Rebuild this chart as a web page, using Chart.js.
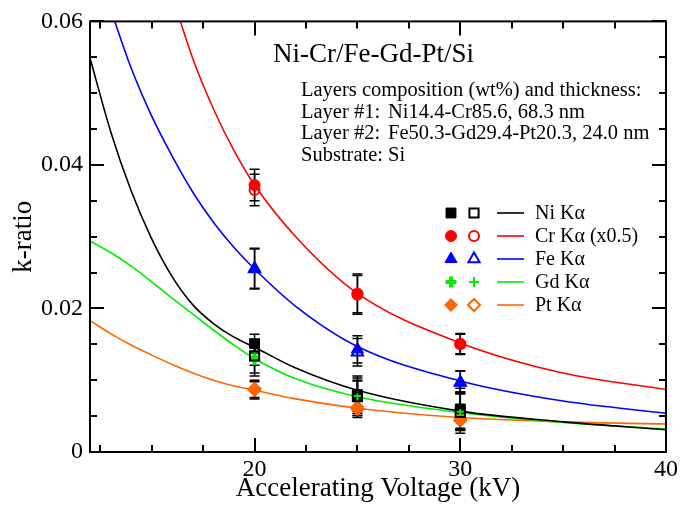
<!DOCTYPE html>
<html lang="en">
<head>
<meta charset="UTF-8">
<title>k-ratio vs accelerating voltage</title>
<script src="https://cdn.jsdelivr.net/npm/chart.js"></script>
<style>
  html, body { margin: 0; padding: 0; background: #fff; }
</style>
</head>
<body>
<canvas id="kChart" width="681" height="505"></canvas>

<script>
    // Measured k-ratios at each voltage (filled and open symbols)
    var voltages = [20, 25, 30];
    var niFilled = [0.0151, 0.0080, 0.0060];
    var niOpen   = [0.0134, 0.0077, 0.0055];
    var niErr    = [0.0013, 0.0026, 0.0029];
    var crFilled = [0.0372, 0.0221, 0.0151];
    var crOpen   = [0.0365, 0.0219, 0.0150];
    var crErr    = [0.0022, 0.0027, 0.0014];
    var feFilled = [0.0256, 0.0143, 0.0097];
    var feOpen   = [0.0255, 0.0139, 0.0097];
    var feErr    = [0.0028, 0.0019, 0.0016];
    var gdFilled = [0.0129, 0.0079, 0.0057];
    var gdOpen   = [0.0133, 0.0078, 0.0056];
    var gdErr    = [0.0023, 0.0021, 0.0026];
    var ptFilled = [0.0086, 0.0063, 0.0046];
    var ptOpen   = [0.0088, 0.0060, 0.0044];
    var ptErr    = [0.0012, 0.0012, 0.0013];

    // Calculated curves
    var curveKV = [12, 13, 14, 15, 16, 17, 18, 19, 20, 22, 25, 30, 35, 40];
    var niCurve = [0.0549, 0.0447, 0.0364, 0.0297, 0.0244, 0.0205, 0.0179, 0.0160, 0.0146, 0.0117, 0.0086, 0.0057, 0.0042, 0.0031];
    var crCurve = [null, null, null, null, 0.0635, 0.0548, 0.0478, 0.0420, 0.0372, 0.0300, 0.0221, 0.0152, 0.0110, 0.0087];
    var feCurve = [null, 0.0617, 0.0535, 0.0468, 0.0412, 0.0362, 0.0320, 0.0285, 0.0255, 0.0203, 0.0147, 0.0099, 0.0071, 0.0054];
    var gdCurve = [0.0294, 0.0278, 0.0259, 0.0237, 0.0214, 0.0192, 0.0170, 0.0149, 0.0130, 0.0102, 0.0077, 0.0055, 0.0041, 0.0032];
    var ptCurve = [0.0183, 0.0165, 0.0149, 0.0135, 0.0122, 0.0110, 0.0100, 0.0092, 0.0086, 0.0074, 0.0061, 0.0048, 0.0042, 0.0039];

    var seriesNames = ['Ni K\u03b1', 'Cr K\u03b1 (x0.5)', 'Fe K\u03b1', 'Gd K\u03b1', 'Pt K\u03b1'];

    // Axis ticks
    var xTickVals = [12.5, 15, 17.5, 20, 22.5, 25, 27.5, 30, 32.5, 35, 37.5, 40];
    var xTickLabels = {20: '20', 30: '30', 40: '40'};
    var yTickVals = [0, 0.005, 0.01, 0.015, 0.02, 0.025, 0.03, 0.035, 0.04, 0.045, 0.05, 0.055, 0.06];
    var yTickLabels = ['0', '', '', '', '0.02', '', '', '', '0.04', '', '', '', '0.06'];

    var plotTitle = 'Ni-Cr/Fe-Gd-Pt/Si';
    var noteLines = [
        ['Layers composition (wt%) and thickness:', ''],
        ['Layer #1:', 'Ni14.4-Cr85.6, 68.3 nm'],
        ['Layer #2:', 'Fe50.3-Gd29.4-Pt20.3, 24.0 nm'],
        ['Substrate: Si', '']
    ];

    var serif = "'Liberation Serif', 'DejaVu Serif', serif";
    var colors = ['#000000', '#ff0000', '#0000ff', '#00ee00', '#ff6600'];
    var shapes = ['rect', 'circle', 'triangle', 'cross', 'rectRot'];
    var radii  = [7, 5.5, 7, 5.5, 6.5];

    function pts(ys) {
        return voltages.map(function(x, i) { return {x: x, y: ys[i]}; });
    }
    function curve(ys) {
        return curveKV.map(function(x, i) { return {x: x, y: ys[i]}; });
    }

    var filled = [niFilled, crFilled, feFilled, gdFilled, ptFilled];
    var open   = [niOpen, crOpen, feOpen, gdOpen, ptOpen];
    var errs   = [niErr, crErr, feErr, gdErr, ptErr];
    var curves = [niCurve, crCurve, feCurve, gdCurve, ptCurve];

    var datasets = [];
    curves.forEach(function(c, i) {
        datasets.push({
            type: 'line', label: seriesNames[i] + ' calc', data: curve(c),
            borderColor: colors[i], borderWidth: 1.6, pointRadius: 0,
            cubicInterpolationMode: 'monotone', fill: false, order: 2
        });
    });
    filled.forEach(function(f, i) {
        datasets.push({
            type: 'scatter', label: seriesNames[i], data: pts(f), errorBars: errs[i],
            pointStyle: shapes[i], pointRadius: radii[i],
            pointBackgroundColor: colors[i], pointBorderColor: colors[i],
            pointBorderWidth: shapes[i] === 'cross' ? 4 : 1, order: 1
        });
        datasets.push({
            type: 'scatter', label: seriesNames[i] + ' (open)', data: pts(open[i]), errorBars: errs[i],
            pointStyle: shapes[i], pointRadius: radii[i] - 0.5,
            pointBackgroundColor: 'rgba(0,0,0,0)', pointBorderColor: colors[i],
            pointBorderWidth: 2, order: 0
        });
    });

    // Error bars under the symbols
    var errorBarPlugin = {
        id: 'errorBars',
        beforeDatasetsDraw: function(chart) {
            var ctx = chart.ctx, xs = chart.scales.x, ys = chart.scales.y;
            ctx.save();
            ctx.strokeStyle = '#000';
            ctx.lineWidth = 1.5;
            chart.data.datasets.forEach(function(ds) {
                if (!ds.errorBars) return;
                ds.data.forEach(function(p, i) {
                    var px = xs.getPixelForValue(p.x);
                    var top = ys.getPixelForValue(p.y + ds.errorBars[i]);
                    var bot = ys.getPixelForValue(p.y - ds.errorBars[i]);
                    ctx.beginPath();
                    ctx.moveTo(px, top); ctx.lineTo(px, bot);
                    ctx.moveTo(px - 5, top); ctx.lineTo(px + 5, top);
                    ctx.moveTo(px - 5, bot); ctx.lineTo(px + 5, bot);
                    ctx.stroke();
                });
            });
            ctx.restore();
        }
    };

    // Frame with inward ticks on all four sides, legend and notes
    var framePlugin = {
        id: 'frame',
        afterDraw: function(chart) {
            var ctx = chart.ctx, a = chart.chartArea;
            var xs = chart.scales.x, ys = chart.scales.y;
            ctx.save();
            ctx.strokeStyle = '#000';
            ctx.lineWidth = 2;
            ctx.beginPath();
            xs.ticks.forEach(function(t) {
                var px = Math.round(xs.getPixelForValue(t.value));
                var len = t.label ? 14 : 7;
                ctx.moveTo(px, a.bottom); ctx.lineTo(px, a.bottom - len);
                ctx.moveTo(px, a.top); ctx.lineTo(px, a.top + len);
            });
            ys.ticks.forEach(function(t) {
                var py = Math.round(ys.getPixelForValue(t.value));
                var len = t.label ? 14 : 7;
                ctx.moveTo(a.left, py); ctx.lineTo(a.left + len, py);
                ctx.moveTo(a.right, py); ctx.lineTo(a.right - len, py);
            });
            ctx.stroke();
            ctx.strokeRect(a.left, a.top, a.right - a.left, a.bottom - a.top);

            // title and composition notes
            ctx.fillStyle = '#000';
            ctx.textBaseline = 'alphabetic';
            ctx.textAlign = 'left';
            ctx.font = '27px ' + serif;
            ctx.fillText(plotTitle, 273, 62);
            ctx.font = '20.5px ' + serif;
            noteLines.forEach(function(line, i) {
                var y = 96 + i * 21.5;
                ctx.fillText(line[0], 301, y);
                if (line[1]) ctx.fillText(line[1], 388, y);
            });

            // legend: filled symbol, open symbol, line, text
            var drawPoint = Chart.helpers.drawPoint;
            seriesNames.forEach(function(name, i) {
                var y = 213 + i * 23;
                ctx.fillStyle = colors[i];
                ctx.strokeStyle = colors[i];
                ctx.lineWidth = shapes[i] === 'cross' ? 4 : 1;
                drawPoint(ctx, {pointStyle: shapes[i], radius: radii[i], rotation: 0, borderWidth: ctx.lineWidth}, 451, y);
                ctx.fillStyle = 'rgba(0,0,0,0)';
                ctx.lineWidth = 2;
                drawPoint(ctx, {pointStyle: shapes[i], radius: radii[i] - 0.5, rotation: 0, borderWidth: 2}, 474, y);
                ctx.lineWidth = 1.6;
                ctx.beginPath();
                ctx.moveTo(497, y); ctx.lineTo(524, y);
                ctx.stroke();
                ctx.fillStyle = '#000';
                ctx.font = '20px ' + serif;
                ctx.textBaseline = 'middle';
                ctx.fillText(name, 535, y + 1);
            });
            ctx.restore();
        }
    };

    function buildChart() {
        var ctx = document.getElementById('kChart').getContext('2d');
        new Chart(ctx, {
            data: { datasets: datasets },
            options: {
                responsive: false,
                animation: false,
                devicePixelRatio: 1,
                layout: { padding: { top: 20, right: 14, left: 0, bottom: 0 } },
                plugins: { legend: { display: false }, tooltip: { enabled: false } },
                scales: {
                    x: {
                        type: 'linear', min: 12, max: 40,
                        afterBuildTicks: function(scale) {
                            scale.ticks = xTickVals.map(function(v) { return {value: v}; });
                        },
                        afterFit: function(scale) { scale.height = 53; },
                        grid: { display: false, drawTicks: false },
                        border: { display: false },
                        ticks: {
                            autoSkip: false, maxRotation: 0, padding: 3, color: '#000',
                            font: { family: serif, size: 24 },
                            callback: function(v) { return xTickLabels[v] || ''; }
                        },
                        title: {
                            display: true, text: 'Accelerating Voltage (kV)', color: '#000',
                            font: { family: serif, size: 27 }, padding: { top: 0, bottom: 0 }
                        }
                    },
                    y: {
                        type: 'linear', min: 0, max: 0.06,
                        afterBuildTicks: function(scale) {
                            scale.ticks = yTickVals.map(function(v) { return {value: v}; });
                        },
                        afterFit: function(scale) { scale.width = 90; },
                        grid: { display: false, drawTicks: false },
                        border: { display: false },
                        ticks: {
                            autoSkip: false, padding: 7, color: '#000',
                            font: { family: serif, size: 24 },
                            callback: function(v, i) { return yTickLabels[i]; }
                        },
                        title: {
                            display: true, text: 'k-ratio', color: '#000',
                            font: { family: serif, size: 27 }, padding: { top: 8, bottom: 0 }
                        }
                    }
                }
            },
            plugins: [errorBarPlugin, framePlugin]
        });
    }

    // make sure the serif face is ready before the canvas text is drawn
    if (document.fonts && document.fonts.load) {
        document.fonts.load("24px 'Liberation Serif'").then(buildChart, buildChart);
    } else {
        buildChart();
    }
</script>
</body>
</html>
